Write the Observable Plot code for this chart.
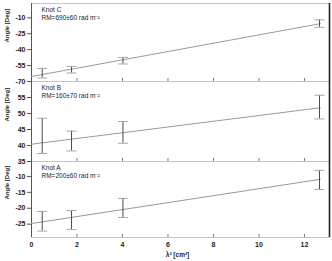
<!DOCTYPE html>
<html>
<head>
<meta charset="utf-8">
<script src="https://cdn.jsdelivr.net/npm/d3@7"></script>
<script src="https://cdn.jsdelivr.net/npm/@observablehq/plot@0.6"></script>
<style>
  html, body { margin: 0; padding: 0; background: #fff; }
  #chart { position: relative; width: 332px; height: 261px; overflow: hidden; }
  #chart svg { position: absolute; left: 0; overflow: visible; }
</style>
</head>
<body>
<div id="chart"></div>
<script>
// λ² positions [cm²]
const lambda2 = [0.47, 1.76, 4.02, 12.66];
const xTicks = [0, 2, 4, 6, 8, 10, 12];
const innerXTicks = [2, 4, 6, 8, 10, 12];

// Knot C
const knotCAngles = [-62.2, -58.9, -50.4, -15.4];
const knotCErrors = [4.5, 3.1, 3.1, 3.5];
const knotCFitX = [0, 12.7];
const knotCFitY = [-65.3, -15.5];
const knotCTicks = [-70, -55, -40, -25, -10];
const knotCLabel = "Knot C\nRM=690±60 rad m⁻²";

// Knot B
const knotBAngles = [43.0, 41.4, 44.1, 52.0];
const knotBErrors = [5.5, 3.1, 3.4, 3.7];
const knotBFitX = [0, 12.7];
const knotBFitY = [40.4, 51.8];
const knotBTicks = [35, 40, 45, 50, 55];
const knotBLabel = "Knot B\nRM=160±70 rad m⁻²";

// Knot A
const knotAAngles = [-24.1, -23.7, -19.9, -11.1];
const knotAErrors = [3.1, 3.0, 3.0, 3.0];
const knotAFitX = [0, 12.7];
const knotAFitY = [-24.8, -10.9];
const knotATicks = [-25, -20, -15, -10];
const knotALabel = "Knot A\nRM=200±60 rad m⁻²";

const xDomain = [0, 13.1];
const yTitle = "Angle [Deg]";
const xTitle = "λ² [cm²]";

const capSymbol = {
  draw(ctx, size) {
    const r = 5;
    ctx.moveTo(-r, 0);
    ctx.lineTo(r, 0);
  }
};

function panel({angles, errors, fitX, fitY, yDomain, yTicks, label, top, height, marginTop, marginBottom, bottomAxis}) {
  const pts = lambda2.map((x, i) => ({x, y: angles[i], lo: angles[i] - errors[i], hi: angles[i] + errors[i]}));
  const fit = fitX.map((x, i) => ({x, y: fitY[i]}));
  const innerH = height - marginTop - marginBottom;
  const marks = [
    Plot.frame({stroke: "#c4c4c4"}),
    Plot.ruleX(innerXTicks, {stroke: "#777", insetTop: innerH - 3}),
    Plot.ruleX([xDomain[0]], {stroke: "#555"}),
    Plot.ruleX([xDomain[1]], {stroke: "#222", strokeWidth: 1.6}),
    Plot.axisY({ticks: yTicks, tickSize: 4, tickPadding: 2, fontWeight: "bold", fontSize: 7, tickFormat: d => String(d), label: null, stroke: "#555"}),
    Plot.line(fit, {x: "x", y: "y", stroke: "#9a9a9a", strokeWidth: 1}),
    Plot.ruleX(pts, {x: "x", y1: "lo", y2: "hi", stroke: "#4a4a4a", strokeWidth: 1}),
    Plot.dot(pts, {x: "x", y: "lo", symbol: capSymbol, stroke: "#a8a8a8", fill: "none", strokeWidth: 1}),
    Plot.dot(pts, {x: "x", y: "hi", symbol: capSymbol, stroke: "#a8a8a8", fill: "none", strokeWidth: 1}),
    Plot.text([label], {frameAnchor: "top-left", dx: 10, dy: 3.5, textAnchor: "start", lineAnchor: "top", lineHeight: 1.15, fontSize: 6.5, fill: "#222"}),
    Plot.text([yTitle], {frameAnchor: "left", dx: -24, rotate: -90, fontSize: 6, fontWeight: "bold", fill: "#222"})
  ];
  if (bottomAxis) {
    marks.push(Plot.axisX({ticks: xTicks, tickSize: 0, tickPadding: 5, fontWeight: "bold", fontSize: 7, tickFormat: d => String(d), label: null}));
    marks.push(Plot.text([xTitle], {frameAnchor: "bottom", dy: 19, dx: -3, fontSize: 6.5, fontWeight: "bold", fill: "#222"}));
  }
  const svg = Plot.plot({
    width: 332,
    height,
    marginLeft: 31,
    marginRight: 3,
    marginTop,
    marginBottom,
    x: {domain: xDomain, axis: bottomAxis ? undefined : null},
    y: {domain: yDomain},
    style: {fontFamily: "'Liberation Sans', Arial, sans-serif", color: "#222", background: "transparent", overflow: "visible"},
    marks
  });
  svg.style.top = top + "px";
  document.getElementById("chart").appendChild(svg);
}

panel({angles: knotCAngles, errors: knotCErrors, fitX: knotCFitX, fitY: knotCFitY, yDomain: [-70, 3.5], yTicks: knotCTicks, label: knotCLabel, top: 0, height: 81, marginTop: 3, marginBottom: 0, bottomAxis: false});
panel({angles: knotBAngles, errors: knotBErrors, fitX: knotBFitX, fitY: knotBFitY, yDomain: [35, 60], yTicks: knotBTicks, label: knotBLabel, top: 81, height: 80, marginTop: 0, marginBottom: 0, bottomAxis: false});
panel({angles: knotAAngles, errors: knotAErrors, fitX: knotAFitX, fitY: knotAFitY, yDomain: [-29.2, -5.3], yTicks: knotATicks, label: knotALabel, top: 161, height: 100, marginTop: 0, marginBottom: 24, bottomAxis: true});
</script>
</body>
</html>
